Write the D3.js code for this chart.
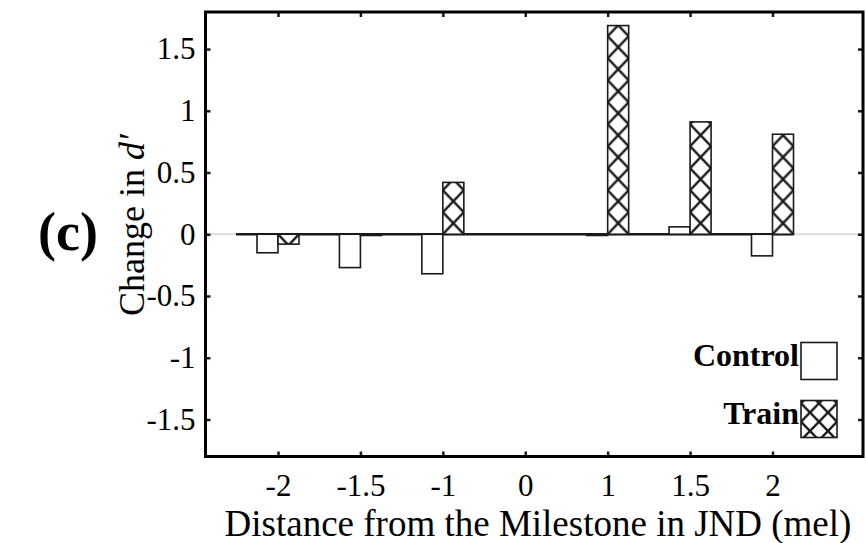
<!DOCTYPE html>
<html>
<head>
<meta charset="utf-8">
<script src="https://cdn.jsdelivr.net/npm/d3@7"></script>
<style>
  body { margin: 0; background: #fff; }
  svg { display: block; font-family: "Liberation Serif", "Times New Roman", serif; }
</style>
</head>
<body>
<div id="chart"></div>
<script>
const categories = ['-2', '-1.5', '-1', '0', '1', '1.5', '2'];
const controlValues = [-0.15, -0.27, -0.32, 0, -0.01, 0.06, -0.175];
const trainValues = [-0.08, -0.01, 0.42, 0, 1.69, 0.91, 0.81];
const yTickValues = [-1.5, -1, -0.5, 0, 0.5, 1, 1.5];
const legendLabels = ['Control', 'Train'];

const width = 866;
const height = 543;
const frame = { left: 205.5, right: 863, top: 12, bottom: 456.5 };
const barWidth = 21;
const ink = '#1a1a1a';

const svg = d3.select('#chart')
  .append('svg')
  .attr('width', width)
  .attr('height', height)
  .attr('viewBox', `0 0 ${width} ${height}`);

svg.append('rect')
  .attr('width', width)
  .attr('height', height)
  .attr('fill', '#fff');

const x = d3.scalePoint().domain(categories).range([278, 772.5]);
const y = d3.scaleLinear().domain([-1.8, 1.8]).range([frame.bottom, frame.top]);

const data = categories.map((c, i) => ({
  cat: c,
  control: controlValues[i],
  train: trainValues[i],
}));

const defs = svg.append('defs');

// cross hatch, one tile per train bar so the X sits centred in the bar
function hatch(id, px, py, w, h) {
  const p = defs.append('pattern')
    .attr('id', id)
    .attr('patternUnits', 'userSpaceOnUse')
    .attr('x', px)
    .attr('y', py)
    .attr('width', w)
    .attr('height', h);
  p.append('rect').attr('width', w).attr('height', h).attr('fill', '#fff');
  p.append('path')
    .attr('d', `M0,0L${w},${h}M${w},0L0,${h}`)
    .attr('stroke', ink)
    .attr('stroke-width', 2.4)
    .attr('fill', 'none');
}

// zero reference line
svg.append('line')
  .attr('x1', frame.left)
  .attr('x2', frame.right)
  .attr('y1', y(0))
  .attr('y2', y(0))
  .attr('stroke', '#dcdcdc')
  .attr('stroke-width', 2);

svg.append('line')
  .attr('x1', x(categories[0]) - 2 * barWidth)
  .attr('x2', x(categories[categories.length - 1]) + barWidth)
  .attr('y1', y(0))
  .attr('y2', y(0))
  .attr('stroke', ink)
  .attr('stroke-width', 2.5);

const bars = svg.append('g');

bars.selectAll('.control')
  .data(data.filter((d) => d.control !== 0))
  .enter()
  .append('rect')
  .attr('class', 'control')
  .attr('x', (d) => x(d.cat) - barWidth)
  .attr('y', (d) => y(Math.max(0, d.control)))
  .attr('width', barWidth)
  .attr('height', (d) => Math.abs(y(d.control) - y(0)))
  .attr('fill', '#fff')
  .attr('stroke', ink)
  .attr('stroke-width', 1.6);

data.forEach((d, i) => {
  hatch(`hatch-${i}`, x(d.cat), y(0), barWidth, 22);
});

bars.selectAll('.train')
  .data(data.filter((d) => d.train !== 0))
  .enter()
  .append('rect')
  .attr('class', 'train')
  .attr('x', (d) => x(d.cat))
  .attr('y', (d) => y(Math.max(0, d.train)))
  .attr('width', barWidth)
  .attr('height', (d) => Math.abs(y(d.train) - y(0)))
  .attr('fill', (d) => `url(#hatch-${categories.indexOf(d.cat)})`)
  .attr('stroke', ink)
  .attr('stroke-width', 1.6);

// axes, ticks pointing inward on all four sides
const styleAxis = (g) => {
  g.select('.domain').remove();
  g.selectAll('.tick line').attr('stroke', ink).attr('stroke-width', 2.5);
  g.selectAll('.tick text')
    .attr('fill', '#000')
    .attr('font-family', '"Liberation Serif", "Times New Roman", serif')
    .attr('font-size', 31);
};

svg.append('g')
  .attr('transform', `translate(0,${frame.bottom})`)
  .call(d3.axisBottom(x).tickSize(-5).tickPadding(17))
  .call(styleAxis);

svg.append('g')
  .attr('transform', `translate(0,${frame.top})`)
  .call(d3.axisTop(x).tickSize(-5).tickFormat(''))
  .call(styleAxis);

svg.append('g')
  .attr('transform', `translate(${frame.left},0)`)
  .call(d3.axisLeft(y).tickValues(yTickValues).tickSize(-5).tickPadding(10)
    .tickFormat((d) => String(d)))
  .call(styleAxis);

svg.append('g')
  .attr('transform', `translate(${frame.right},0)`)
  .call(d3.axisRight(y).tickValues(yTickValues).tickSize(-5).tickFormat(''))
  .call(styleAxis);

svg.append('rect')
  .attr('x', frame.left)
  .attr('y', frame.top)
  .attr('width', frame.right - frame.left)
  .attr('height', frame.bottom - frame.top)
  .attr('fill', 'none')
  .attr('stroke', '#000')
  .attr('stroke-width', 3);

// axis titles
svg.append('text')
  .attr('x', 538)
  .attr('y', 536)
  .attr('text-anchor', 'middle')
  .attr('font-size', 37)
  .attr('fill', '#000')
  .text('Distance from the Milestone in JND (mel)');

const yTitle = svg.append('text')
  .attr('transform', 'translate(144,225) rotate(-90)')
  .attr('text-anchor', 'middle')
  .attr('font-size', 36)
  .attr('fill', '#000');
yTitle.append('tspan').text('Change in ');
yTitle.append('tspan').attr('font-style', 'italic').text('d\u2032');

svg.append('text')
  .attr('x', 38)
  .attr('y', 250)
  .attr('font-size', 54)
  .attr('font-weight', 'bold')
  .attr('fill', '#000')
  .text('(c)');

// legend
const legend = svg.append('g').attr('transform', 'translate(801,342.5)');
hatch('hatch-legend', 801, 400.5, 18, 18.5);

legendLabels.forEach((label, i) => {
  const row = legend.append('g').attr('transform', `translate(0,${i * 58})`);
  row.append('rect')
    .attr('width', 36)
    .attr('height', 37)
    .attr('fill', i === 0 ? '#fff' : 'url(#hatch-legend)')
    .attr('stroke', ink)
    .attr('stroke-width', 1.6);
  row.append('text')
    .attr('x', -2)
    .attr('y', 23)
    .attr('text-anchor', 'end')
    .attr('font-size', 32)
    .attr('font-weight', 'bold')
    .attr('fill', '#000')
    .text(label);
});
</script>
</body>
</html>
